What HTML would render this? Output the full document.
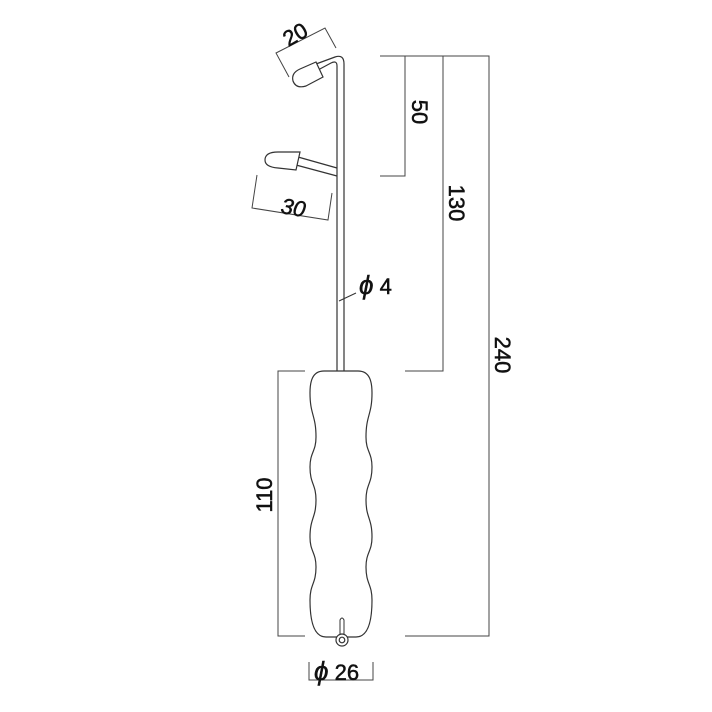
<!DOCTYPE html><html><head><style>body{margin:0;background:#fff}svg{display:block}</style></head><body>
<svg width="712" height="712" viewBox="0 0 712 712" xmlns="http://www.w3.org/2000/svg" font-family="Liberation Sans, DejaVu Sans, sans-serif">
<g fill="none" stroke="#333" stroke-width="1.2">
<path d="M337 371 V66 Q337 60 331 63 L318 70"/>
<path d="M344 371 V64 Q344 54 335 57 L316 64"/>
<path d="M316 62 L323 77 L306 86 Q296 89 293 81 Q291 73 300 69 Z" fill="#fff"/>
<path d="M337 168 L298 157"/><path d="M337 176 L296 165"/>
<path d="M300 152 L296 170 L278 168 Q265 167 265 160 Q265 152 278 152 Z" fill="#fff"/>
<line x1="339" y1="301" x2="356" y2="293" stroke-width="1"/>
<path d="M324 371 H358 C370 371 372 382 372 393 C372 415 366 415 366 437 C366 452 372 452 372 467 C372 484 366 484 366 500 C366 518 372 518 372 537 C372 552 366 552 366 567 C366 584 372 584 372 600 C372 622 368 637 356 637 H326 C314 637 310 622 310 600 C310 584 316 584 316 567 C316 552 310 552 310 537 C310 518 316 518 316 500 C316 484 310 484 310 467 C310 452 316 452 316 437 C316 415 310 415 310 393 C310 382 312 371 324 371 Z"/>
<path d="M340 635 V620 Q342 616 344 620 V635" stroke-width="1"/>
<circle cx="342" cy="640" r="6" fill="#fff"/><circle cx="342" cy="640" r="2.8"/>
</g>
<g fill="none" stroke="#444" stroke-width="1">
<path d="M380 56 H489 V636 H405"/>
<path d="M405 56 V176 H380"/>
<path d="M443 56 V371 H405"/>
<path d="M305 371 H278 V636 H305"/>
<path d="M309 662 V680 H373 V662"/>
<path d="M289 77 L276 53 L325 28 L336 48"/>
<path d="M257 175 L252 208 L328 220 L332 193"/>
</g>
<g fill="#111" font-size="22" stroke="#111" stroke-width="0.5">
<text x="0" y="0" transform="translate(299,41) rotate(-30)" text-anchor="middle">20</text>
<text x="0" y="0" transform="translate(292,215) rotate(10)" text-anchor="middle" font-style="italic">30</text>
<text x="0" y="0" transform="translate(412,112) rotate(90)" text-anchor="middle">50</text>
<text x="0" y="0" transform="translate(449,203) rotate(90)" text-anchor="middle">130</text>
<text x="0" y="0" transform="translate(495,355) rotate(90)" text-anchor="middle">240</text>
<text x="0" y="0" transform="translate(272,495) rotate(-90)" text-anchor="middle">110</text>
<text x="359" y="294"><tspan font-style="italic" font-size="26">ϕ</tspan> 4</text>
<text x="314" y="680"><tspan font-style="italic" font-size="26">ϕ</tspan> 26</text>
</g>
</svg></body></html>
